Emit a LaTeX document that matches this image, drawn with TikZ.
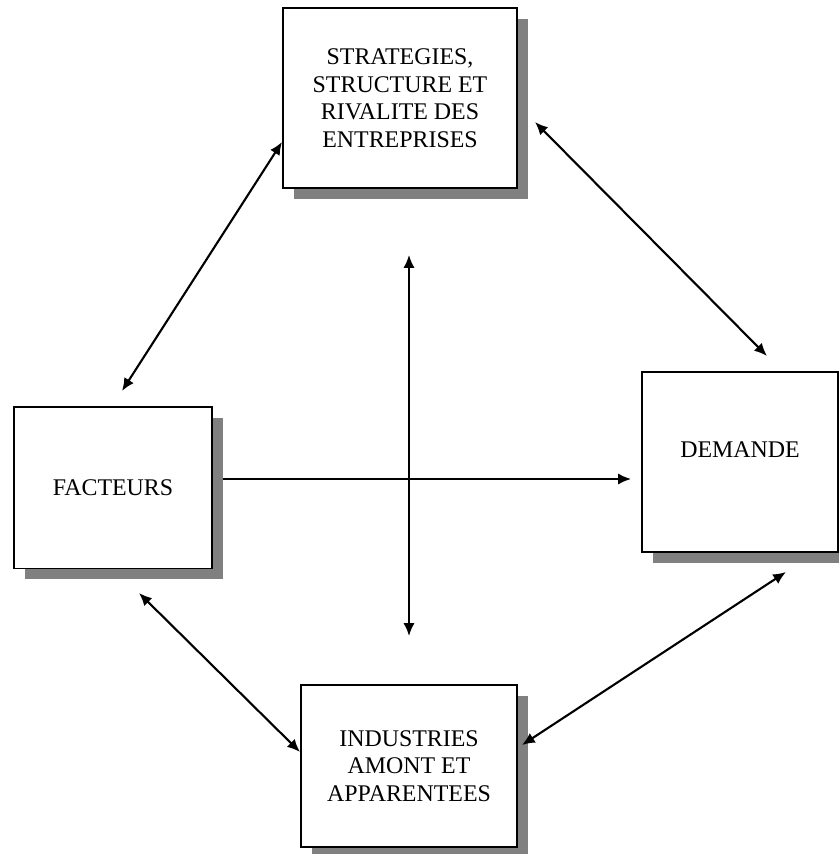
\documentclass[tikz,border=0pt]{standalone}
\usepackage{fontspec}
\setmainfont{Liberation Serif}
\usetikzlibrary{arrows.meta,shadows}

\begin{document}
\begin{tikzpicture}[
  force/.style={rectangle, draw, line width=0.8pt, fill=white, align=center,
    font=\fontsize{17}{19.6}\selectfont,
    drop shadow={shadow xshift=0.28cm, shadow yshift=-0.28cm, fill=black!50, opacity=1}},
  arr/.style={{Latex[length=3.2mm, width=2.8mm]}-{Latex[length=3.2mm, width=2.8mm]}, line width=1.5pt},
  one/.style={-{Latex[length=3.2mm, width=2.8mm]}, line width=1.5pt}
]
\useasboundingbox (0,0) rectangle (20.975,21.35);

% Determinants
\node[force, minimum width=5.85cm, minimum height=4.5cm]  (strat) at (10,18.9)
  {STRATEGIES,\\STRUCTURE ET\\RIVALITE DES\\ENTREPRISES};
\node[force, minimum width=4.95cm, minimum height=4.03cm] (fact)  at (2.825,9.16) {FACTEURS};
\node[force, minimum width=4.9cm, minimum height=4.5cm, text depth=0.6cm] (dem) at (18.5,9.8) {DEMANDE};
\node[force, minimum width=5.4cm, minimum height=4.05cm]  (indus) at (10.225,2.2)
  {INDUSTRIES\\AMONT ET\\APPARENTEES};

% Arrow ends
\coordinate (fa-n) at (3.05,11.575);
\coordinate (st-w) at (7.05,17.8);
\coordinate (st-e) at (13.375,18.3);
\coordinate (de-n) at (19.175,12.45);
\coordinate (fa-s) at (3.475,6.525);
\coordinate (in-w) at (7.5,2.55);
\coordinate (de-s) at (19.65,7.05);
\coordinate (in-e) at (13.05,2.725);
\coordinate (fa-e) at (5.575,9.375);
\coordinate (de-w) at (15.775,9.375);
\coordinate (up)   at (10.225,14.975);
\coordinate (down) at (10.225,5.45);

% Edges
\draw[arr] (fa-n) -- (st-w);
\draw[arr] (st-e) -- (de-n);
\draw[arr] (fa-s) -- (in-w);
\draw[arr] (de-s) -- (in-e);
\draw[one] (fa-e) -- (de-w);
\draw[arr] (up) -- (down);

\end{tikzpicture}
\end{document}
